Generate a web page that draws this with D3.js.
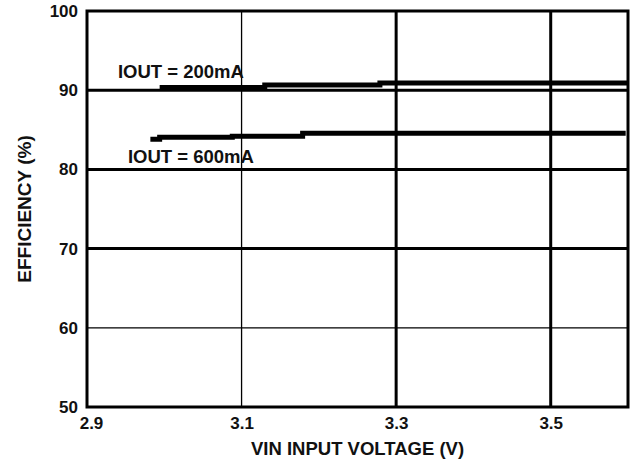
<!DOCTYPE html>
<html>
<head>
<meta charset="utf-8">
<script src="https://cdn.jsdelivr.net/npm/d3@7"></script>
<style>
  body { margin: 0; background: #fff; }
  text { font-family: "Liberation Sans", Arial, sans-serif; font-weight: bold; fill: #111; }
</style>
</head>
<body>
<div id="chart"></div>
<script>
// data
const xTicks = [2.9, 3.1, 3.3, 3.5];
const yTicks = [50, 60, 70, 80, 90, 100];
const thickX = [3.3, 3.5];
const thickY = [70, 80, 90];

const vin200 = [2.994, 3.130, 3.279, 3.600];
const eff200 = [90.35, 90.65, 90.9, 90.9];
const vin600 = [2.982, 2.994, 3.088, 3.179, 3.597];
const eff600 = [83.8, 84.05, 84.2, 84.55, 84.55];

const labels = [
  { text: "IOUT = 200mA", x: 2.94, y: 91.55 },
  { text: "IOUT = 600mA", x: 2.953, y: 80.8 }
];

const width = 638, height = 465;
const margin = { top: 11, right: 10, bottom: 58, left: 87 };

const svg = d3.select("#chart").append("svg")
  .attr("width", width)
  .attr("height", height);

const x = d3.scaleLinear().domain([2.9, 3.6]).range([margin.left, width - margin.right]);
const y = d3.scaleLinear().domain([50, 100]).range([height - margin.bottom, margin.top]);

// grid
svg.append("g").selectAll("line")
  .data(xTicks.slice(1))
  .enter().append("line")
  .attr("x1", d => x(d)).attr("x2", d => x(d))
  .attr("y1", y(50)).attr("y2", y(100))
  .attr("stroke", "#000")
  .attr("stroke-width", d => thickX.includes(d) ? 3 : 1.3);

svg.append("g").selectAll("line")
  .data(yTicks.slice(1, -1))
  .enter().append("line")
  .attr("x1", x(2.9)).attr("x2", x(3.6))
  .attr("y1", d => y(d)).attr("y2", d => y(d))
  .attr("stroke", "#000")
  .attr("stroke-width", d => thickY.includes(d) ? 3 : 1.3);

// frame
svg.append("rect")
  .attr("x", x(2.9)).attr("y", y(100))
  .attr("width", x(3.6) - x(2.9)).attr("height", y(50) - y(100))
  .attr("fill", "none")
  .attr("stroke", "#000")
  .attr("stroke-width", 3);

// axes (labels only)
const xAxis = svg.append("g")
  .attr("transform", "translate(0," + y(50) + ")")
  .call(d3.axisBottom(x).tickValues(xTicks).tickFormat(d3.format(".1f")).tickSize(0).tickPadding(10));
const yAxis = svg.append("g")
  .attr("transform", "translate(" + x(2.9) + ",0)")
  .call(d3.axisLeft(y).tickValues(yTicks).tickSize(0).tickPadding(9));
[xAxis, yAxis].forEach(g => {
  g.select(".domain").remove();
  g.selectAll("text").attr("font-size", 17).attr("font-family", null).attr("fill", "#111");
});
xAxis.selectAll("text").attr("dx", d => d === 2.9 ? 4 : 0);

// curves
const line = d3.line()
  .x(d => x(d[0]))
  .y(d => y(d[1]))
  .curve(d3.curveStepAfter);

svg.append("path")
  .datum(d3.zip(vin200, eff200))
  .attr("d", line)
  .attr("fill", "none")
  .attr("stroke", "#000")
  .attr("stroke-width", 5);

svg.append("path")
  .datum(d3.zip(vin600, eff600))
  .attr("d", line)
  .attr("fill", "none")
  .attr("stroke", "#000")
  .attr("stroke-width", 5);

svg.selectAll(".lbl")
  .data(labels)
  .enter().append("text")
  .attr("class", "lbl")
  .attr("x", d => x(d.x))
  .attr("y", d => y(d.y))
  .attr("font-size", 18.5)
  .text(d => d.text);

// titles
svg.append("text")
  .attr("x", (x(2.9) + x(3.6)) / 2)
  .attr("y", 455)
  .attr("text-anchor", "middle")
  .attr("font-size", 18.5)
  .text("VIN INPUT VOLTAGE (V)");

svg.append("text")
  .attr("transform", "translate(31,209) rotate(-90)")
  .attr("text-anchor", "middle")
  .attr("font-size", 19)
  .text("EFFICIENCY (%)");
</script>
</body>
</html>
